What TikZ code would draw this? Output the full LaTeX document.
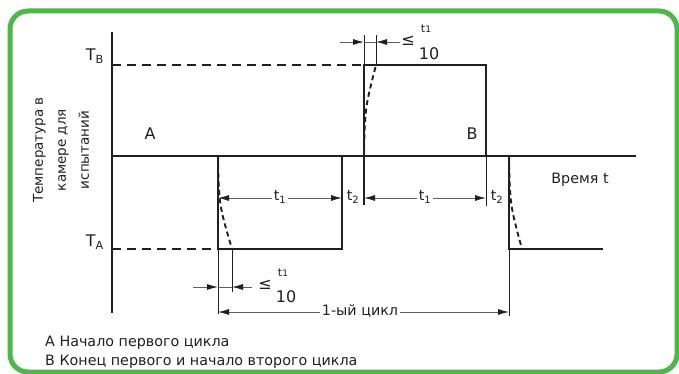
\documentclass[tikz,border=0pt]{standalone}
\usepackage{fontspec}
\setmainfont{DejaVu Sans}
\usetikzlibrary{arrows.meta}
\definecolor{frame}{RGB}{77,184,72}
\definecolor{ink}{RGB}{35,31,32}
\definecolor{dimc}{RGB}{95,95,95}
\begin{document}
\begin{tikzpicture}[x=1pt,y=-1pt,
  wave/.style={line width=2.3pt, ink},
  axisline/.style={line width=2.3pt, ink},
  lvl/.style={line width=2.1pt, ink, dash pattern=on 9pt off 6pt},
  ramp/.style={line width=1.9pt, ink, dash pattern=on 5pt off 3.5pt},
  thinline/.style={line width=0.9pt, ink},
  dimline/.style={line width=0.9pt, dimc},
  tip/.style={-{Latex[length=11pt,width=6pt,color=ink]}},
  lbl/.style={font=\fontsize{14.3}{16}\selectfont, text=ink, inner sep=1pt},
  big/.style={font=\fontsize{16}{18}\selectfont, text=ink, inner sep=1pt},
  dimlbl/.style={font=\fontsize{14.3}{16}\selectfont, text=ink, fill=white, inner sep=2pt},
  ]
\useasboundingbox (0,0) rectangle (679,374);
\fill[white] (0,0) rectangle (679,374);
\draw[frame, line width=5pt, rounded corners=18pt] (10,11) rectangle (677,372);

% axes
\draw[axisline] (112,32) -- (112,313);
\draw[axisline] (112,156) -- (636,156);

% levels
\draw[lvl] (112,65) -- (362,65);
\draw[lvl] (112,249) -- (216,249);

% waveform
\draw[wave] (218,156) -- (218,249) -- (342,249) -- (342,156);
\draw[wave] (364,205) -- (364,65) -- (486,65) -- (486,156);
\draw[wave] (509,156) -- (509,249) -- (603,249);

% thin extension lines
\draw[thinline] (218,249) -- (218,314);
\draw[thinline] (232,249) -- (232,292);
\draw[thinline] (364,65) -- (364,35);
\draw[thinline] (376,65) -- (376,35);
\draw[thinline] (486,156) -- (486,206);
\draw[thinline] (509,249) -- (509,316);

% dashed ramps
\draw[ramp] (218,156) .. controls (219,205) .. (232,249);
\draw[ramp] (364,156) .. controls (365,108) .. (376,65);
\draw[ramp] (509,156) .. controls (510,205) .. (522,249);

% coordinates for dimensions
\coordinate (b1) at (218,198);
\coordinate (b2) at (342,198);
\coordinate (b3) at (364,198);
\coordinate (b4) at (486,198);
\coordinate (c1) at (218,312);
\coordinate (c2) at (509,312);

% t1 dimensions
\draw[dimline, tip] (280,198) -- (b1);
\draw[dimline, tip] (280,198) -- (b2);
\node[dimlbl] (t1a) at (280,197) {t\textsubscript{1}};
\draw[dimline, tip] (425,198) -- (b3);
\draw[dimline, tip] (425,198) -- (b4);
\node[dimlbl] (t1b) at (425,197) {t\textsubscript{1}};
\node[lbl] (t2a) at (353,197) {t\textsubscript{2}};
\node[lbl] (t2b) at (497,197) {t\textsubscript{2}};

% cycle
\draw[dimline, tip] (360,312) -- (c1);
\draw[dimline, tip] (360,312) -- (c2);
\node[dimlbl] (cyc) at (360,311) {1-ый цикл};

% bottom t1/10
\coordinate (d1) at (193,287);
\coordinate (d2) at (252,287);
\draw[dimline, tip] (d1) -- (218,287);
\draw[dimline, tip] (d2) -- (232,287);
\draw[dimline] (218,287) -- (232,287);
\node[big] (le1) at (265,285) {≤};
\node[lbl] (fn1) at (283,273) {{\fontsize{11}{11}\selectfont t}{\fontsize{9}{9}\selectfont 1}};
\node[big] (fd1) at (286,297) {10};

% top t1/10
\coordinate (e1) at (340,42);
\coordinate (e2) at (400,42);
\draw[dimline, tip] (e1) -- (364,42);
\draw[dimline, tip] (e2) -- (376,42);
\draw[dimline] (364,42) -- (376,42);
\node[big] (le2) at (408,41) {≤};
\node[lbl] (fn2) at (426,29) {{\fontsize{11}{11}\selectfont t}{\fontsize{9}{9}\selectfont 1}};
\node[big] (fd2) at (429,54) {10};

% labels
\node[big, anchor=east] (TB) at (105,56) {T\textsubscript{B}};
\node[big, anchor=east] (TA) at (105,242) {T\textsubscript{A}};
\node[big] (A) at (150,134) {A};
\node[big] (B) at (472,134) {B};
\node[lbl] (time) at (580,180) {Время t};
\node[lbl, rotate=90, align=center, font=\fontsize{13.5}{23}\selectfont] (ylab) at (61,150) {Температура в\\камере для\\испытаний};

% legend
\node[lbl, anchor=west] (legA) at (44,343) {A Начало первого цикла};
\node[lbl, anchor=west] (legB) at (44,362) {B Конец первого и начало второго цикла};
\end{tikzpicture}
\end{document}
